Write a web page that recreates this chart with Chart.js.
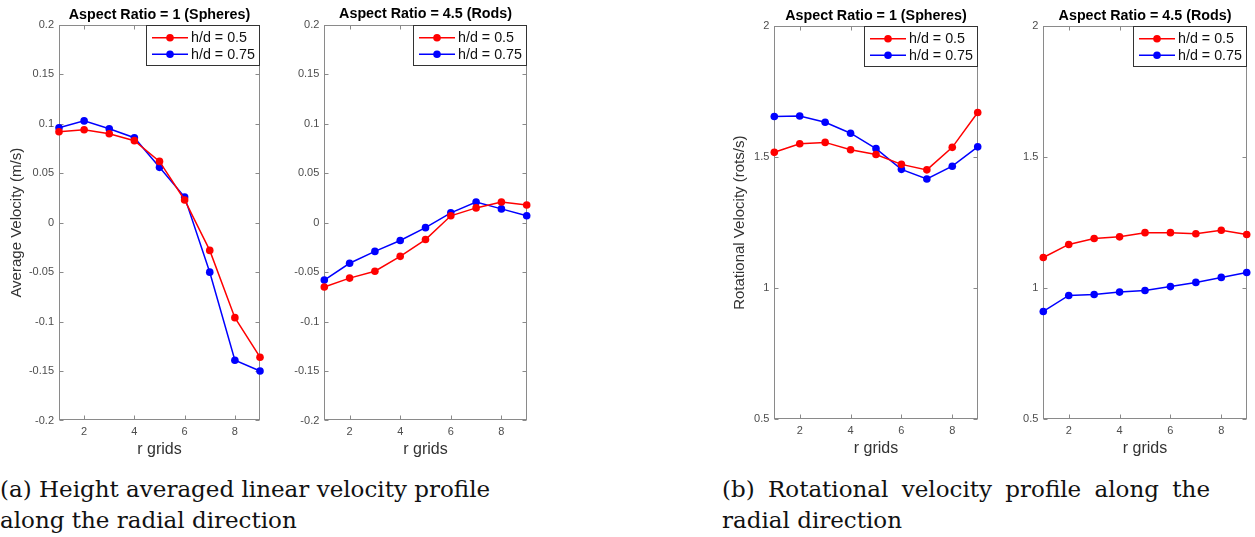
<!DOCTYPE html>
<html lang="en">
  <head>
    <meta charset="UTF-8" />
    <meta name="viewport" content="width=device-width, initial-scale=1.0" />
    <title>Velocity profiles</title>
    <script src="https://cdn.jsdelivr.net/npm/chart.js"></script>
    <style>
      body {
        margin: 0;
        background: #fff;
        width: 1255px;
        height: 537px;
        position: relative;
        overflow: hidden;
      }
      canvas {
        position: absolute;
        top: 0;
      }
      .caption {
        position: absolute;
        top: 474px;
        font-family: "DejaVu Serif", serif;
        font-size: 23px;
        line-height: 31px;
        color: #111;
      }
      .caption div {
        white-space: nowrap;
      }
      .caption .justified {
        width: 488px;
        text-align: justify;
        text-align-last: justify;
      }
    </style>
  </head>
  <body>
    <canvas id="linSpheres"></canvas>
    <canvas id="linRods"></canvas>
    <canvas id="rotSpheres"></canvas>
    <canvas id="rotRods"></canvas>

    <div class="caption" style="left: 0px">
      <div>(a) Height averaged linear velocity profile</div>
      <div>along the radial direction</div>
    </div>
    <div class="caption" style="left: 722px">
      <div class="justified">(b) Rotational velocity profile along the</div>
      <div>radial direction</div>
    </div>

    <script>
      const rGrid = [1, 2, 3, 4, 5, 6, 7, 8, 9];
      const seriesLabels = ["h/d = 0.5", "h/d = 0.75"];
      const seriesColors = ["#ff0000", "#0000ff"];

      // height averaged linear velocity (m/s)
      const linSpheres05 = [0.092, 0.094, 0.09, 0.083, 0.062, 0.023, -0.028, -0.096, -0.136];
      const linSpheres075 = [0.096, 0.103, 0.095, 0.086, 0.056, 0.026, -0.05, -0.139, -0.15];
      const linRods05 = [-0.065, -0.056, -0.049, -0.034, -0.017, 0.007, 0.015, 0.021, 0.018];
      const linRods075 = [-0.058, -0.041, -0.029, -0.018, -0.005, 0.01, 0.021, 0.014, 0.007];

      // rotational velocity (rots/s)
      const rotSpheres05 = [1.519, 1.552, 1.557, 1.529, 1.511, 1.473, 1.452, 1.538, 1.671];
      const rotSpheres075 = [1.656, 1.658, 1.634, 1.592, 1.533, 1.454, 1.417, 1.466, 1.54];
      const rotRods05 = [1.117, 1.167, 1.19, 1.196, 1.212, 1.212, 1.208, 1.221, 1.205];
      const rotRods075 = [0.911, 0.972, 0.976, 0.985, 0.991, 1.006, 1.022, 1.041, 1.06];

      const xTicks = [2, 4, 6, 8];
      const linTicks = [-0.2, -0.15, -0.1, -0.05, 0, 0.05, 0.1, 0.15, 0.2];
      const rotTicks = [0.5, 1, 1.5, 2];

      const titleSpheres = "Aspect Ratio = 1 (Spheres)";
      const titleRods = "Aspect Ratio = 4.5 (Rods)";
      const xTitle = "r grids";
      const linYTitle = "Average Velocity (m/s)";
      const rotYTitle = "Rotational Velocity (rots/s)";

      const H = 465;
      const FONT = '"Liberation Sans", Arial, sans-serif';
      Chart.defaults.font.family = FONT;

      // matlab style box round the plot with inward ticks on all sides
      const axesBox = {
        id: "axesBox",
        beforeDatasetsDraw(chart) {
          const { ctx, chartArea: a, scales } = chart;
          const l = Math.round(a.left) + 0.5;
          const r = Math.round(a.right) - 0.5;
          const t = Math.round(a.top) + 0.5;
          const b = Math.round(a.bottom) - 0.5;
          ctx.save();
          ctx.strokeStyle = "#8a8a8a";
          ctx.lineWidth = 1;
          ctx.strokeRect(l, t, r - l, b - t);
          ctx.beginPath();
          scales.x.ticks.forEach((tk) => {
            const px = Math.round(scales.x.getPixelForValue(tk.value)) + 0.5;
            ctx.moveTo(px, b);
            ctx.lineTo(px, b - 4);
            ctx.moveTo(px, t);
            ctx.lineTo(px, t + 4);
          });
          scales.y.ticks.forEach((tk) => {
            const py = Math.round(scales.y.getPixelForValue(tk.value)) + 0.5;
            ctx.moveTo(l, py);
            ctx.lineTo(l + 4, py);
            ctx.moveTo(r, py);
            ctx.lineTo(r - 4, py);
          });
          ctx.stroke();
          ctx.restore();
        },
      };

      // boxed legend in the top right corner, line with marker for each series
      const boxLegend = {
        id: "boxLegend",
        afterDatasetsDraw(chart) {
          const { ctx, chartArea: a } = chart;
          const sets = chart.data.datasets;
          ctx.save();
          ctx.font = "14.3px " + FONT;
          const textW = Math.max(...sets.map((d) => ctx.measureText(d.label).width));
          const w = Math.round(45 + textW + 5);
          const h = 41;
          const x = Math.round(a.right) - w;
          const y = Math.round(a.top);
          ctx.fillStyle = "#fff";
          ctx.fillRect(x, y, w, h);
          ctx.strokeStyle = "#333";
          ctx.lineWidth = 1;
          ctx.strokeRect(x + 0.5, y + 0.5, w - 1, h - 1);
          sets.forEach((ds, i) => {
            const cy = y + 12.7 + i * 16.6;
            ctx.strokeStyle = ds.borderColor;
            ctx.lineWidth = 1.5;
            ctx.beginPath();
            ctx.moveTo(x + 6, cy);
            ctx.lineTo(x + 42, cy);
            ctx.stroke();
            ctx.fillStyle = ds.borderColor;
            ctx.beginPath();
            ctx.arc(x + 24, cy, 3.8, 0, Math.PI * 2);
            ctx.fill();
            ctx.fillStyle = "#111";
            ctx.textBaseline = "middle";
            ctx.fillText(ds.label, x + 45, cy + 0.5);
          });
          ctx.restore();
        },
      };

      const makeChart = (p) => {
        const canvas = document.getElementById(p.id);
        canvas.width = p.width;
        canvas.height = H;
        canvas.style.left = p.left + "px";

        const datasets = p.series.map((values, i) => ({
          label: seriesLabels[i],
          data: values.map((v, j) => ({ x: rGrid[j], y: v })),
          borderColor: seriesColors[i],
          backgroundColor: seriesColors[i],
          borderWidth: 1.5,
          pointRadius: 3.8,
          pointBorderWidth: 0,
          pointHoverRadius: 3.8,
          tension: 0,
          clip: false,
        }));

        const titlePadTop = p.titleY - 8.6;
        const titlePadBottom = p.plotTop - titlePadTop - 17.2;

        return new Chart(canvas, {
          type: "line",
          data: { datasets },
          plugins: [axesBox, boxLegend],
          options: {
            responsive: false,
            animation: false,
            devicePixelRatio: 1,
            layout: { padding: { left: 0, top: 0, bottom: 0, right: p.left + p.width - p.plotRight } },
            plugins: {
              legend: { display: false },
              tooltip: { enabled: false },
              title: {
                display: true,
                text: p.title,
                fullSize: false,
                color: "#000",
                font: { size: 14.3, weight: "bold", lineHeight: 1.2 },
                padding: { top: titlePadTop, bottom: titlePadBottom },
              },
            },
            scales: {
              x: {
                type: "linear",
                min: 1,
                max: 9,
                afterBuildTicks: (s) => {
                  s.ticks = xTicks.map((v) => ({ value: v }));
                },
                afterFit: (s) => {
                  s.height = H - p.plotBottom;
                },
                grid: { display: false, drawTicks: false },
                border: { display: false },
                ticks: { padding: 5, color: "#4d4d4d", font: { size: 11 }, callback: (v) => String(v) },
                title: {
                  display: true,
                  text: xTitle,
                  color: "#333",
                  font: { size: 16, lineHeight: 1.2 },
                  padding: { top: 0, bottom: H - p.xTitleY - 9.6 },
                },
              },
              y: {
                min: p.yTicks[0],
                max: p.yTicks[p.yTicks.length - 1],
                afterBuildTicks: (s) => {
                  s.ticks = p.yTicks.map((v) => ({ value: v }));
                },
                afterFit: (s) => {
                  s.width = p.plotLeft - p.left;
                },
                grid: { display: false, drawTicks: false },
                border: { display: false },
                ticks: {
                  padding: 5,
                  color: "#4d4d4d",
                  font: { size: 11 },
                  callback: (v) => String(Number(v.toFixed(2))),
                },
                title: {
                  display: !!p.yTitle,
                  text: p.yTitle || "",
                  color: "#333",
                  font: { size: 15, lineHeight: 1.2 },
                  padding: { top: p.yTitleX - p.left - 9, bottom: 0 },
                },
              },
            },
          },
        });
      };

      makeChart({
        id: "linSpheres", left: 0, width: 272,
        plotLeft: 59, plotRight: 260, plotTop: 25, plotBottom: 420.5,
        titleY: 15, xTitleY: 450, yTitleX: 17,
        title: titleSpheres, yTitle: linYTitle, yTicks: linTicks,
        series: [linSpheres05, linSpheres075],
      });
      makeChart({
        id: "linRods", left: 280, width: 258,
        plotLeft: 324.3, plotRight: 526.7, plotTop: 25, plotBottom: 420.5,
        titleY: 14.5, xTitleY: 450, yTitleX: 0,
        title: titleRods, yTitle: null, yTicks: linTicks,
        series: [linRods05, linRods075],
      });
      makeChart({
        id: "rotSpheres", left: 720, width: 268,
        plotLeft: 774.3, plotRight: 977.7, plotTop: 26.5, plotBottom: 419,
        titleY: 16.5, xTitleY: 448.5, yTitleX: 740,
        title: titleSpheres, yTitle: rotYTitle, yTicks: rotTicks,
        series: [rotSpheres05, rotSpheres075],
      });
      makeChart({
        id: "rotRods", left: 990, width: 265,
        plotLeft: 1043.3, plotRight: 1246.7, plotTop: 26.5, plotBottom: 419,
        titleY: 16, xTitleY: 448.5, yTitleX: 0,
        title: titleRods, yTitle: null, yTicks: rotTicks,
        series: [rotRods05, rotRods075],
      });
    </script>
  </body>
</html>
